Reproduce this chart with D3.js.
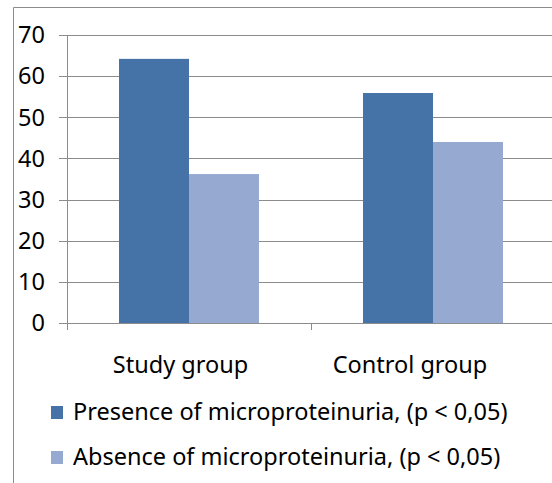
<!DOCTYPE html>
<html><head><meta charset="utf-8">
<script src="https://cdn.jsdelivr.net/npm/d3@7"></script>
<style>body{margin:0;background:#fff;} svg{display:block;}</style>
</head><body>
<svg id="c" width="552" height="483"></svg>
<script>
const categories = ["Study group", "Control group"];
const seriesNames = ["Presence of microproteinuria, (p < 0,05)", "Absence of microproteinuria, (p < 0,05)"];
const presence = [64.2, 55.9];
const absence = [36.2, 44.0];
const yTicks = [0, 10, 20, 30, 40, 50, 60, 70];
const colors = ["#4573A7", "#95A9D1"];

const svg = d3.select("#c");
const font = "'Noto Sans', 'Open Sans', sans-serif";
const fs = 23.5;

// outer frame
svg.append("path").attr("d", "M13.5,483 V7.5 H552").attr("fill", "none").attr("stroke", "#8c8c8c").attr("stroke-width", 1);

const x0 = 67, x1 = 555, yTop = 35, yBot = 323;
const x = d3.scaleBand().domain(categories).range([x0, x1]).paddingInner(0).paddingOuter(0);
const y = d3.scaleLinear().domain([0, 70]).range([yBot, yTop]);
const inner = d3.scaleBand().domain([0, 1]).range([0, x.bandwidth()]).paddingInner(0).paddingOuter(0.743);

// gridlines
svg.append("g").selectAll("line").data(yTicks).join("line")
  .attr("x1", 59).attr("x2", 552)
  .attr("y1", d => Math.round(y(d)) + 0.5).attr("y2", d => Math.round(y(d)) + 0.5)
  .attr("stroke", "#8c8c8c").attr("stroke-width", 1);

// y axis line
svg.append("line").attr("x1", x0 + 0.5).attr("x2", x0 + 0.5).attr("y1", yTop).attr("y2", yBot + 7)
  .attr("stroke", "#8c8c8c");
// category tick
svg.append("g").selectAll("line").data(categories.slice(1)).join("line")
  .attr("x1", d => Math.round(x(d)) + 0.5).attr("x2", d => Math.round(x(d)) + 0.5)
  .attr("y1", yBot).attr("y2", yBot + 7).attr("stroke", "#8c8c8c");

// bars
const series = [presence, absence];
series.forEach((vals, si) => {
  svg.append("g").selectAll("rect").data(vals).join("rect")
    .attr("x", (d, i) => x(categories[i]) + inner(si))
    .attr("width", inner.bandwidth())
    .attr("y", d => y(d))
    .attr("height", d => yBot - y(d))
    .attr("fill", colors[si]);
});

// y tick labels
svg.append("g").selectAll("text").data(yTicks).join("text")
  .attr("x", 45).attr("y", d => y(d)).attr("dy", "0.35em")
  .attr("text-anchor", "end").attr("font-family", font).attr("font-size", fs).attr("fill", "#000")
  .text(d => d);

// category labels
const labelShift = [-8.5, -23];
svg.append("g").selectAll("text").data(categories).join("text")
  .attr("x", (d, i) => x(d) + x.bandwidth() / 2 + labelShift[i]).attr("y", 373)
  .attr("text-anchor", "middle").attr("font-family", font).attr("font-size", fs).attr("fill", "#000")
  .text(d => d);

// legend
const lg = svg.append("g");
seriesNames.forEach((n, i) => {
  const yy = 406 + i * 45;
  lg.append("rect").attr("x", 51).attr("y", yy).attr("width", 12).attr("height", 13).attr("fill", colors[i]);
  lg.append("text").attr("x", 73).attr("y", yy + 14).attr("font-family", font).attr("font-size", fs).attr("fill", "#000").text(n);
});
</script>
</body></html>
